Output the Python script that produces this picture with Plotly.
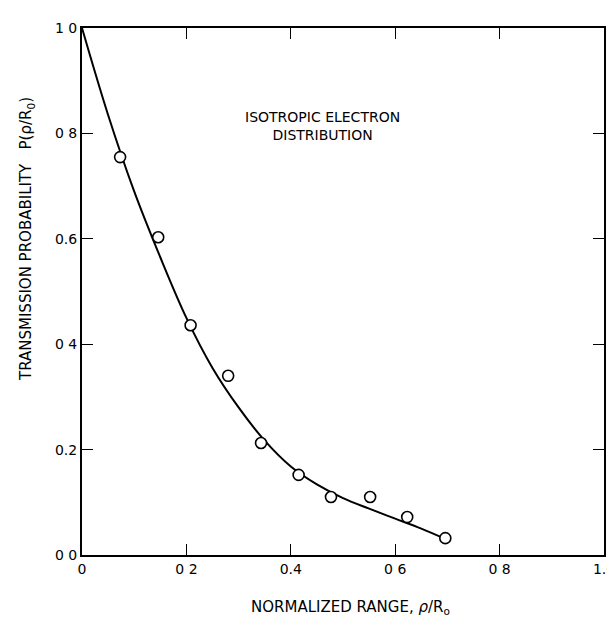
import plotly.graph_objects as go

# Measured data points (open circles)
pts_x = [0.073, 0.146, 0.208, 0.28, 0.343, 0.415, 0.477, 0.552, 0.623, 0.696]
pts_y = [0.755, 0.603, 0.436, 0.34, 0.2125, 0.152, 0.110, 0.110, 0.072, 0.032]

curve_x = [0, 0.05, 0.1, 0.15, 0.2, 0.25, 0.3, 0.35, 0.4, 0.45, 0.5, 0.55, 0.6, 0.65, 0.697]
curve_y = [1.0, 0.835, 0.69, 0.565, 0.45, 0.355, 0.28, 0.217, 0.168, 0.134, 0.108, 0.088,
           0.069, 0.05, 0.03]

x_tickvals = [0, 0.2, 0.4, 0.6, 0.8, 1.0]
x_ticktext = ["0", "0 2", "0.4", "0 6", "0 8", "1.0"]
y_tickvals = [0, 0.2, 0.4, 0.6, 0.8, 1.0]
y_ticktext = ["0 0", "0.2", "0 4", "0.6", "0 8", "1 0"]

FONT = "DejaVu Sans"

fig = go.Figure()
fig.add_trace(go.Scatter(x=curve_x, y=curve_y, mode="lines",
                         line=dict(color="black", width=2, shape="spline", smoothing=1.0),
                         hoverinfo="skip"))
fig.add_trace(go.Scatter(x=pts_x, y=pts_y, mode="markers",
                         marker=dict(symbol="circle", size=11, color="white",
                                     line=dict(color="black", width=1.6))))

axis_common = dict(showline=True, linecolor="black", linewidth=2, mirror="ticks",
                   ticks="inside", ticklen=11, tickwidth=1, tickcolor="black",
                   showgrid=False, zeroline=False,
                   tickfont=dict(family=FONT, size=14, color="black"))

fig.update_xaxes(range=[0, 1.0], tickvals=x_tickvals, ticktext=x_ticktext,
                 ticklabeloverflow="allow", **axis_common)
fig.update_yaxes(range=[0, 1.0], tickvals=y_tickvals, ticktext=y_ticktext, **axis_common)

fig.add_annotation(x=0.46, y=0.814, xref="x", yref="y",
                   text="ISOTROPIC ELECTRON<br>DISTRIBUTION", showarrow=False,
                   font=dict(family=FONT, size=14, color="black"), align="center")

fig.add_annotation(x=(348 - 74) / 533, y=-(599 - 547) / 527, xref="paper", yref="paper",
                   xanchor="center", yanchor="middle",
                   text="NORMALIZED RANGE, <i>ρ</i>/R<sub>o</sub>", showarrow=False,
                   font=dict(family=FONT, size=15, color="black"))

fig.add_annotation(x=-0.105, y=0.60, xref="paper", yref="paper", xanchor="center", yanchor="middle",
                   textangle=-90,
                   text="TRANSMISSION PROBABILITY   P(ρ/R<sub>0</sub>)", showarrow=False,
                   font=dict(family=FONT, size=15, color="black"))

fig.update_layout(width=615, height=617, showlegend=False,
                  paper_bgcolor="white", plot_bgcolor="white",
                  margin=dict(l=74, r=8, t=20, b=70))

fig.write_html("out.html")
